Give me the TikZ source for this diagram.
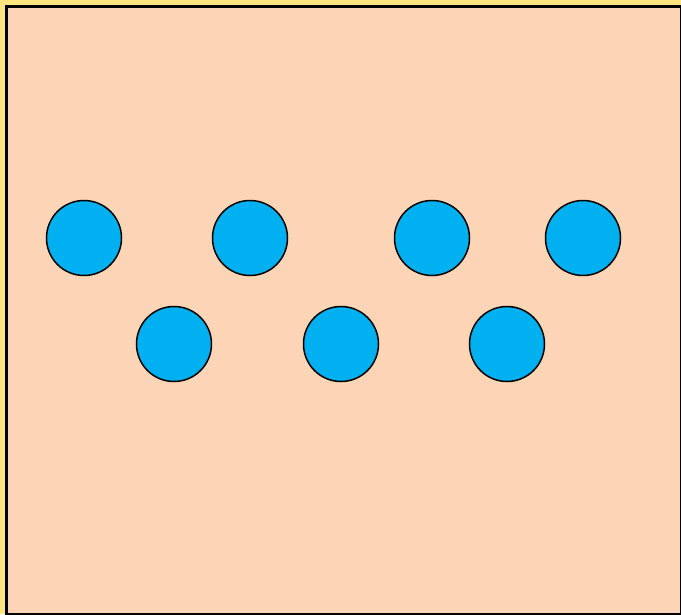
\documentclass[tikz,border=0pt]{standalone}
\definecolor{bgyellow}{HTML}{FFE57F}
\definecolor{peach}{HTML}{FBD5B5}
\definecolor{dotblue}{HTML}{00B0F0}
\tikzset{
  dot/.style={circle, draw=black, line width=1.5pt, fill=dotblue, minimum size=75pt, inner sep=0pt},
  frame/.style={draw=black, line width=3pt, fill=peach}
}
\begin{document}
\begin{tikzpicture}[x=1pt,y=-1pt]
\useasboundingbox (0,0) rectangle (681,614);
\clip (0,0) rectangle (681,614);
\fill[bgyellow] (0,0) rectangle (681,614);
\path[frame] (6.5,6.5) rectangle (681.8,614.8);
\node[dot] (a1) at (84,238) {};
\node[dot] (a2) at (250,238) {};
\node[dot] (a3) at (432,238) {};
\node[dot] (a4) at (583,238) {};
\node[dot] (b1) at (174,344) {};
\node[dot] (b2) at (341,344) {};
\node[dot] (b3) at (507,344) {};
\end{tikzpicture}
\end{document}
